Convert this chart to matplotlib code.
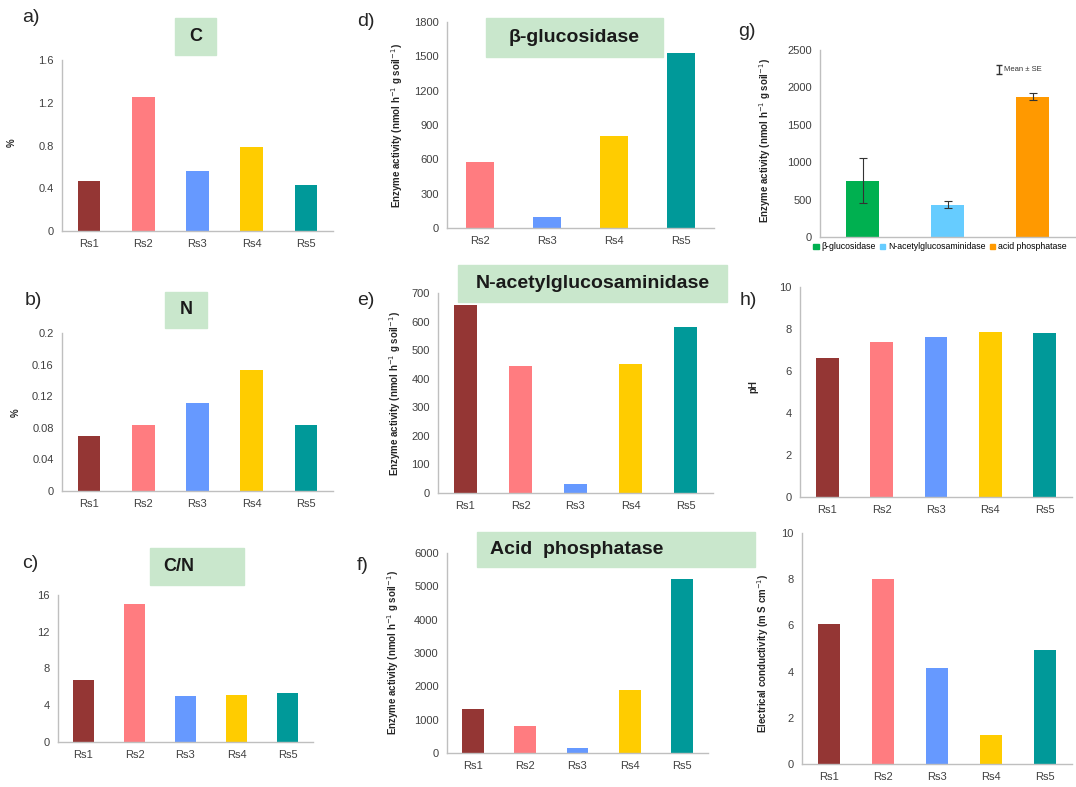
import matplotlib
matplotlib.use("Agg")
import matplotlib.pyplot as plt
from matplotlib.patches import Rectangle

plt.rcParams['font.family'] = ['Liberation Sans', 'DejaVu Sans']

# data
sites = ["Rs1", "Rs2", "Rs3", "Rs4", "Rs5"]
carbon = [0.47, 1.25, 0.56, 0.79, 0.43]
nitrogen = [0.069, 0.083, 0.111, 0.153, 0.083]
c_to_n = [6.8, 15.0, 5.0, 5.1, 5.3]
gluco_sites = ["Rs2", "Rs3", "Rs4", "Rs5"]
gluco = [580, 100, 800, 1530]
nag = [657, 443, 33, 452, 582]
acid_p = [1320, 800, 150, 1900, 5220]
enzymes = ["β-glucosidase", "N-acetylglucosaminidase", "acid phosphatase"]
enzyme_mean = [750, 430, 1875]
enzyme_se = [300, 45, 50]
ph = [6.6, 7.4, 7.6, 7.85, 7.8]
conductivity = [6.05, 8.0, 4.15, 1.25, 4.95]

site_colors = {"Rs1": "#943634", "Rs2": "#ff7c80", "Rs3": "#6699ff",
               "Rs4": "#ffcc00", "Rs5": "#009999"}
enzyme_colors = ["#00b050", "#66ccff", "#ff9900"]

W, H = 1076, 787
fig = plt.figure(figsize=(W / 100, H / 100), dpi=100)

def px_axes(l, t, r, b):
    return fig.add_axes([l / W, 1 - b / H, (r - l) / W, (b - t) / H])

def style(ax):
    for s in ["top", "right"]:
        ax.spines[s].set_visible(False)
    for s in ["left", "bottom"]:
        ax.spines[s].set_color("#bfbfbf")
        ax.spines[s].set_linewidth(1.0)
    ax.tick_params(length=0, labelsize=8, colors="#404040", pad=6)
    ax.set_facecolor("none")

def bar_panel(box, cats, vals, colors, ymax, step):
    ax = px_axes(*box)
    ax.bar(range(len(cats)), vals, width=0.42, color=colors)
    ax.set_xlim(-0.5, len(cats) - 0.5)
    ax.set_ylim(0, ymax)
    ticks = [i * step for i in range(int(round(ymax / step)) + 1)]
    ax.set_yticks(ticks)
    ax.set_xticks(range(len(cats)))
    ax.set_xticklabels(cats)
    style(ax)
    return ax

def fmt(ax, f):
    ax.set_yticklabels([f(t) for t in ax.get_yticks()])

def title_box(l, t, r, b, text, size=13, x=None):
    fig.add_artist(Rectangle((l / W, 1 - b / H), (r - l) / W, (b - t) / H,
                             transform=fig.transFigure, color="#c9e7cc", zorder=0))
    if x is None:
        fig.text((l + r) / 2 / W, 1 - (t + b) / 2 / H, text, ha="center", va="center",
                 fontsize=size, fontweight="bold", color="#1a1a1a")
    else:
        fig.text(x / W, 1 - (t + b) / 2 / H, text, ha="left", va="center",
                 fontsize=size, fontweight="bold", color="#1a1a1a")

def letter(x, y, s):
    fig.text(x / W, 1 - y / H, s, fontsize=14, ha="left", va="center", color="#262626")

def ylab(x, y, s, size=7):
    fig.text(x / W, 1 - y / H, s, rotation=90, ha="center", va="center",
             fontsize=size, fontweight="bold", color="#262626")

enz_label = "Enzyme activity (nmol h$^{-1}$ g soil$^{-1}$)"

# a) C
ax = bar_panel((62, 60, 333, 231), sites, carbon, [site_colors[s] for s in sites], 1.6, 0.4)
fmt(ax, lambda t: "0" if t == 0 else f"{t:.1f}")
title_box(175, 18, 216, 55, "C")
letter(22, 18, "a)")
ylab(12, 143, "%")

# b) N
ax = bar_panel((62, 333, 333, 491), sites, nitrogen, [site_colors[s] for s in sites], 0.2, 0.04)
fmt(ax, lambda t: "0" if t == 0 else (f"{t:.1f}" if abs(t - 0.2) < 1e-9 else f"{t:.2f}"))
title_box(165, 292, 207, 328, "N")
letter(25, 300, "b)")
ylab(16, 413, "%")

# c) C/N
ax = bar_panel((58, 595, 313, 742), sites, c_to_n, [site_colors[s] for s in sites], 16, 4)
fmt(ax, lambda t: f"{int(t)}")
title_box(150, 548, 244, 585, "C/N", x=163)
letter(22, 563, "c)")

# d) beta-glucosidase
ax = bar_panel((447, 22, 714, 228), gluco_sites, gluco, [site_colors[s] for s in gluco_sites], 1800, 300)
fmt(ax, lambda t: f"{int(t)}")
title_box(486, 18, 663, 57, "β-glucosidase", size=14)
letter(357, 22, "d)")
ylab(397, 125, enz_label)

# e) N-acetylglucosaminidase
ax = bar_panel((438, 293, 713, 493), sites, nag, [site_colors[s] for s in sites], 700, 100)
fmt(ax, lambda t: f"{int(t)}")
title_box(458, 265, 727, 302, "N-acetylglucosaminidase", size=14)
letter(357, 300, "e)")
ylab(395, 393, enz_label)

# f) acid phosphatase
ax = bar_panel((447, 553, 708, 753), sites, acid_p, [site_colors[s] for s in sites], 6000, 1000)
fmt(ax, lambda t: f"{int(t)}")
title_box(477, 532, 755, 567, "Acid  phosphatase", size=14, x=490)
letter(357, 565, "f)")
ylab(393, 652, enz_label)

# g) mean of the three enzymes
ax = px_axes(820, 50, 1075, 237)
ax.bar(range(3), enzyme_mean, width=0.39, color=enzyme_colors, yerr=enzyme_se,
       error_kw=dict(ecolor="#333333", elinewidth=0.8, capsize=3, capthick=0.8))
ax.set_xlim(-0.5, 2.5)
ax.set_ylim(0, 2500)
ax.set_yticks([0, 500, 1000, 1500, 2000, 2500])
ax.set_xticks([])
style(ax)
handles = [Rectangle((0, 0), 1, 1, color=c) for c in enzyme_colors]
ax.legend(handles, enzymes, loc="upper left", bbox_to_anchor=(-0.04, -0.01), ncol=3,
          frameon=False, fontsize=6.3, handlelength=0.6, handleheight=0.6,
          handletextpad=0.3, columnspacing=0.5, borderaxespad=0)
ax.errorbar([1.6], [2240], yerr=[60], fmt="none", ecolor="#333333",
            elinewidth=1.0, capsize=2.5, capthick=1.0)
ax.text(1.67, 2240, "Mean ± SE", fontsize=5.5, va="center", color="#333333")
letter(738, 32, "g)")
ylab(765, 140, enz_label)

# h) pH
ax = bar_panel((800, 287, 1072, 497), sites, ph, [site_colors[s] for s in sites], 10, 2)
fmt(ax, lambda t: f"{int(t)}")
letter(740, 300, "h)")
ylab(753, 387, "pH")

# i) electrical conductivity
ax = bar_panel((802, 533, 1072, 764), sites, conductivity, [site_colors[s] for s in sites], 10, 2)
fmt(ax, lambda t: f"{int(t)}")
ylab(763, 653, "Electrical conductivity (m S cm$^{-1}$)")

fig.savefig("out.png", dpi=100)
